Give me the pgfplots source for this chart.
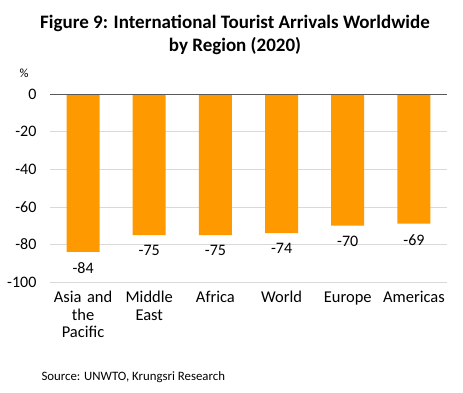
\documentclass[border=0pt]{standalone}
\usepackage{fontspec}
\setmainfont{Carlito}
\usepackage{pgfplots}
\pgfplotsset{compat=1.18}
\definecolor{barorange}{HTML}{FF9900}
\begin{document}
\begin{tikzpicture}[x=1pt,y=1pt]
\useasboundingbox (0,0) rectangle (463,392);
\node[font=\bfseries\fontsize{19}{23}\selectfont, align=center] at (235,357.5) {Figure 9: International Tourist Arrivals Worldwide\\by Region (2020)};
\node[anchor=west, font=\fontsize{12.8}{14}\selectfont] at (38,15) {Source: UNWTO, Krungsri Research};
\node[font=\fontsize{12.5}{14}\selectfont] at (24,319) {\%};
\begin{axis}[
  at={(50pt,110pt)}, anchor=south west, scale only axis,
  width=397pt, height=188pt,
  ybar, bar width=33pt,
  ymin=-100, ymax=0, xmin=-0.5, xmax=5.5,
  ytick={-100,-80,-60,-40,-20,0},
  ymajorgrids, grid style={draw=gray!30, line width=0.6pt},
  axis line style={draw=none}, major tick length=0pt,
  xtick=data,
  xticklabels={{Asia and\\the\\Pacific},{Middle\\East},Africa,World,Europe,Americas},
  xticklabel style={align=center, text width=75pt, yshift=-6pt, font=\fontsize{16.5}{17.5}\selectfont},
  yticklabel style={font=\fontsize{16}{17}\selectfont, xshift=-10pt},
  /pgf/number format/assume math mode=true,
  nodes near coords,
  every node near coord/.append style={anchor=north, yshift=-7pt, font=\fontsize{16}{17}\selectfont},
  clip=false,
]
\addplot[fill=barorange, draw=none] coordinates {(0,-84) (1,-75) (2,-75) (3,-74) (4,-70) (5,-69)};
\draw[gray!70!black, line width=0.8pt] (axis cs:-0.5,0) -- (axis cs:5.5,0);
\end{axis}
\end{tikzpicture}
\end{document}
